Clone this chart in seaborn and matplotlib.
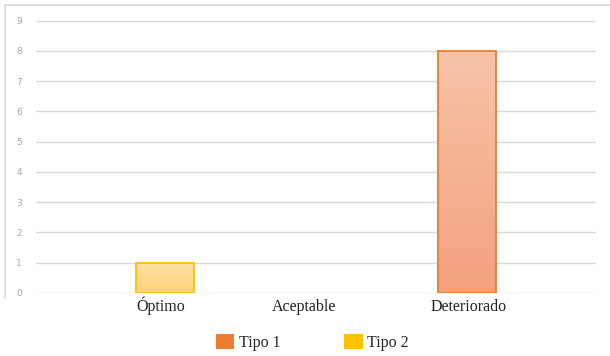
import numpy as np
import pandas as pd
import matplotlib
matplotlib.use("Agg")
import matplotlib.pyplot as plt
from matplotlib.patches import Patch
from matplotlib.lines import Line2D
from matplotlib.colors import LinearSegmentedColormap
import seaborn as sns

categorias = ["Óptimo", "Aceptable", "Deteriorado"]
tipos = ["Tipo 1", "Tipo 2"]
tipo1 = [0, 0, 8]
tipo2 = [1, 0, 0]
yticks = list(range(0, 10))

borde = {"Tipo 1": "#ED7D31", "Tipo 2": "#FFC000"}
relleno = {"Tipo 1": ("#F7C4A9", "#F4A17E"), "Tipo 2": ("#FFE2A6", "#FFD27A")}

df = pd.DataFrame({
    "categoria": categorias * 2,
    "tipo": [tipos[0]] * 3 + [tipos[1]] * 3,
    "valor": tipo1 + tipo2,
})

sns.set_theme(style="white")
plt.rcParams["font.family"] = ["Liberation Serif", "DejaVu Serif"]

fig = plt.figure(figsize=(6.10, 3.56), dpi=100)
ax = fig.add_axes([0.059, 0.177, 0.918, 0.765])

sns.barplot(data=df, x="categoria", y="valor", hue="tipo", order=categorias,
            hue_order=tipos, palette=[borde[t] for t in tipos], width=0.644,
            legend=False, ax=ax, zorder=3)

# Gradient fill inside each bar, outlined in the series colour
for cont, t in zip(ax.containers, tipos):
    cmap = LinearSegmentedColormap.from_list(t, [relleno[t][1], relleno[t][0]])
    for bar in cont.patches:
        h = bar.get_height()
        if h == 0:
            bar.set_visible(False)
            continue
        x0, w = bar.get_x(), bar.get_width()
        grad = np.linspace(0, 1, 256).reshape(-1, 1)
        im = ax.imshow(grad, extent=(x0, x0 + w, 0, h), origin="lower",
                       aspect="auto", cmap=cmap, zorder=3)
        bar.set_facecolor("none")
        bar.set_edgecolor(borde[t])
        bar.set_linewidth(1.3)
        bar.set_zorder(4)
        im.set_clip_path(bar)

ax.set_xlim(-0.556, 2.556)
ax.set_ylim(0, 9)
ax.set_yticks(yticks)
ax.set_yticklabels([str(v) for v in yticks], color="#A6A6A6", fontsize=6.5,
                   family=["DejaVu Sans"])
ax.set_xticks([0.136, 0.936, 1.85])
ax.set_xticklabels(categorias, fontsize=11.5, color="#222222")
for lab in ax.get_xticklabels():
    lab.set_verticalalignment("baseline")
ax.tick_params(axis="x", length=0, pad=13)
ax.tick_params(axis="y", length=0, pad=10)
ax.set_xlabel("")
ax.set_ylabel("")
ax.grid(axis="y", color="#D9D9D9", linewidth=1.0, zorder=0)
ax.grid(axis="x", visible=False)
for s in ax.spines.values():
    s.set_visible(False)

handles = [Patch(facecolor=borde[t], edgecolor="none") for t in tipos]
fig.legend(handles, tipos, loc="center", bbox_to_anchor=(0.512, 0.037), ncol=2,
           frameon=False, fontsize=11.5, handlelength=1.15, handleheight=1.05,
           handletextpad=0.3, columnspacing=4.0)

# Light frame along the top and left edges
fig.add_artist(Line2D([0.009, 1.0], [0.986, 0.986], color="#D9D9D9", lw=1.2,
                      transform=fig.transFigure))
fig.add_artist(Line2D([0.009, 0.009], [0.986, 0.163], color="#D9D9D9", lw=1.2,
                      transform=fig.transFigure))

fig.savefig("out.png", dpi=100, facecolor="white")
